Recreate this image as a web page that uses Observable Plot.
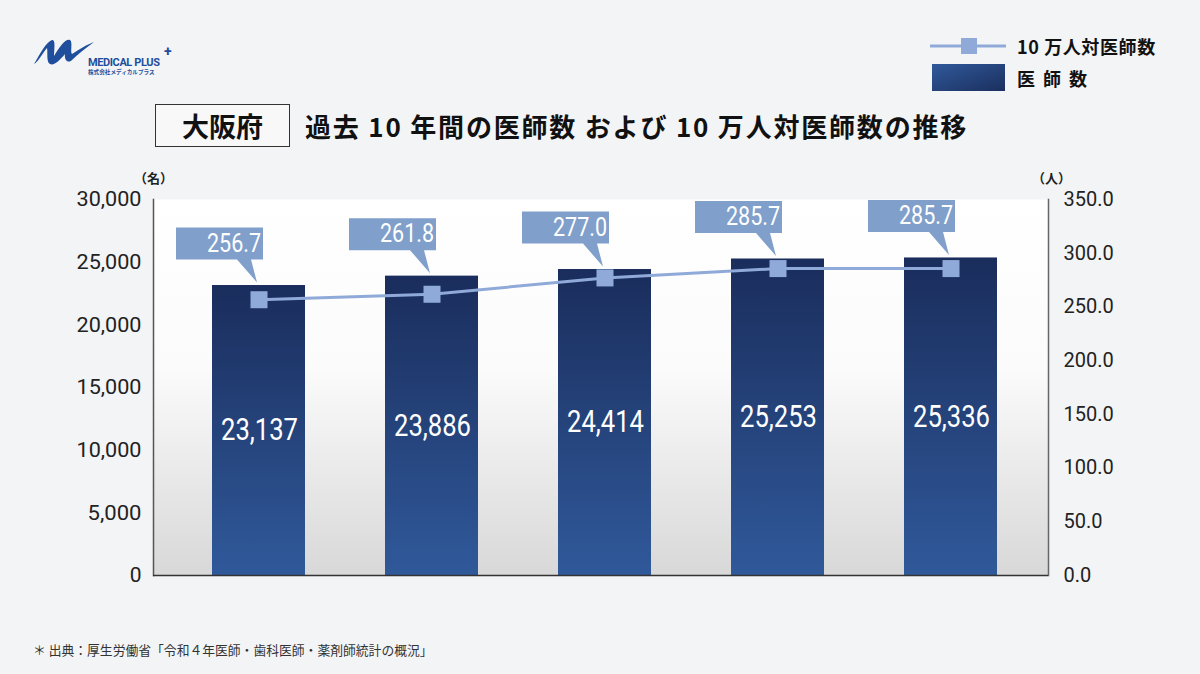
<!DOCTYPE html>
<html><head><meta charset="utf-8">
<script src="https://cdn.jsdelivr.net/npm/d3@7"></script>
<script src="https://cdn.jsdelivr.net/npm/@observablehq/plot@0.6"></script>
<style>
html,body{margin:0;padding:0;}
body{width:1200px;height:674px;background:#f3f4f6;position:relative;overflow:hidden;font-family:"Noto Sans CJK JP","Noto Sans",sans-serif;}
.abs{position:absolute;white-space:nowrap;}
#chart{position:absolute;left:0;top:160px;}
</style></head>
<body>
<!-- logo -->
<svg class="abs" style="left:30px;top:36px" width="145" height="42">
  <path d="M4,28 C10,18 16,6 22,4 C26,3 24,14 24,20 C30,10 36,2 40,4 C43,6 40,16 42,18 C48,14 58,8 64,6 C56,12 48,18 42,24 C38,28 34,24 35,18 C30,24 24,30 20,28 C16,26 18,16 17,12 C12,18 8,26 4,28 Z" fill="#1e4e9c"/>
  <text x="58" y="30" font-family="Roboto,sans-serif" font-weight="700" font-size="11" fill="#1e4e9c" letter-spacing="-0.4">MEDICAL PLUS</text>
  <text x="134" y="20" font-family="Roboto,sans-serif" font-weight="700" font-size="14" fill="#1e4e9c">+</text>
  <text x="58" y="38" font-family="'Noto Sans CJK JP',sans-serif" font-weight="700" font-size="5.6" fill="#1e4e9c">株式会社メディカルプラス</text>
</svg>
<!-- legend -->
<svg class="abs" style="left:925px;top:32px" width="100" height="65">
  <line x1="5" y1="14" x2="81" y2="14" stroke="#8faad9" stroke-width="3"/>
  <rect x="36" y="6" width="16" height="16" fill="#8faad9"/>
  <defs><linearGradient id="lg" x1="0" y1="0" x2="1" y2="1"><stop offset="0" stop-color="#30599a"/><stop offset="1" stop-color="#1b2f5e"/></linearGradient></defs>
  <rect x="7" y="32" width="73" height="27" fill="url(#lg)"/>
</svg>
<div class="abs" style="left:1017px;top:34px;font-size:18px;font-weight:700;color:#111;line-height:24px;letter-spacing:0.6px;">10 万人対医師数</div>
<div class="abs" style="left:1017px;top:66px;font-size:18px;font-weight:700;color:#111;line-height:24px;letter-spacing:8px;">医師数</div>
<!-- title -->
<div class="abs" style="left:155px;top:104px;width:135px;height:43px;border:1px solid #333;background:#f8f8f8;box-sizing:border-box;font-size:27px;font-weight:700;text-align:center;line-height:41px;color:#111;">大阪府</div>
<div class="abs" style="left:305px;top:104px;font-size:26px;font-weight:700;line-height:43px;color:#111;letter-spacing:1.8px;">過去 10 年間の医師数 および 10 万人対医師数の推移</div>
<!-- units -->
<div class="abs" style="left:134px;top:168px;font-size:13px;font-weight:700;color:#222;">（名）</div>
<div class="abs" style="left:1032px;top:168px;font-size:13px;font-weight:700;color:#222;">（人）</div>
<!-- footnote -->
<div class="abs" style="left:33px;top:640px;font-size:12.8px;color:#333;">＊ 出典：厚生労働省「令和４年医師・歯科医師・薬剤師統計の概況」</div>
<div id="chart"></div>
<script>
const years = ["2014", "2016", "2018", "2020", "2022"];
const doctors = [23137, 23886, 24414, 25253, 25336];
const per100k = [256.7, 261.8, 277.0, 285.7, 285.7];
const leftTicks = [0, 5000, 10000, 15000, 20000, 25000, 30000];
const rightTicks = [0, 50, 100, 150, 200, 250, 300, 350];
const leftMax = 30000, rightMax = 350;

const data = years.map((y, i) => ({year: y, doctors: doctors[i], rate: per100k[i], rateScaled: per100k[i] * leftMax / rightMax}));

const defs = () => {
  const d = d3.create("svg:defs");
  const g1 = d.append("linearGradient").attr("id", "barGrad").attr("x1", 0).attr("y1", 0).attr("x2", 0).attr("y2", 1);
  g1.append("stop").attr("offset", 0).attr("stop-color", "#1a2d5c");
  g1.append("stop").attr("offset", 1).attr("stop-color", "#30599a");
  const g2 = d.append("linearGradient").attr("id", "bgGrad").attr("x1", 0).attr("y1", 0).attr("x2", 0).attr("y2", 1);
  g2.append("stop").attr("offset", 0).attr("stop-color", "#ffffff");
  g2.append("stop").attr("offset", 0.45).attr("stop-color", "#fbfbfb");
  g2.append("stop").attr("offset", 1).attr("stop-color", "#d8d8d8");
  return d.node();
};

const callout = {
  draw(ctx) {
    ctx.moveTo(-83, -58);
    ctx.lineTo(4, -58);
    ctx.lineTo(4, -26);
    ctx.lineTo(-8, -26);
    ctx.lineTo(-2, -3);
    ctx.lineTo(-22, -26);
    ctx.lineTo(-83, -26);
    ctx.closePath();
  }
};

const chart = Plot.plot({
  width: 1200,
  height: 430,
  marginLeft: 153,
  marginRight: 152,
  marginTop: 39,
  marginBottom: 15,
  style: {background: "transparent", fontFamily: "Roboto, sans-serif"},
  x: {domain: years, paddingInner: 0.463, paddingOuter: 0.315, align: 0.537, axis: null},
  y: {domain: [0, leftMax], axis: null},
  marks: [
    defs,
    Plot.frame({fill: "url(#bgGrad)", stroke: "none"}),
    Plot.barY(data, {x: "year", y: "doctors", fill: "url(#barGrad)"}),
    Plot.frame({anchor: "left", stroke: "#555", strokeWidth: 1.5}),
    Plot.frame({anchor: "right", stroke: "#666", strokeWidth: 1.5}),
    Plot.ruleY([0], {stroke: "#333", strokeWidth: 1.5}),
    Plot.axisY(leftTicks, {anchor: "left", tickSize: 0, tickPadding: 12, fontSize: 21, fill: "#222", tickFormat: d => d3.format(",")(d), className: "laxis"}),
    Plot.axisY(rightTicks.map(v => v * leftMax / rightMax), {anchor: "right", tickSize: 0, tickPadding: 15, fontSize: 20, fill: "#222", tickFormat: d => (d * rightMax / leftMax).toFixed(1)}),
    Plot.text(data, {x: "year", y: d => d.doctors / 2, dx: -38, textAnchor: "start", text: d => d3.format(",")(d.doctors), fill: "white", fontSize: 31, className: "barlbl"}),
    Plot.lineY(data, {x: "year", y: "rateScaled", stroke: "#8faad9", strokeWidth: 3}),
    Plot.dot(data, {x: "year", y: "rateScaled", symbol: "square", r: 9.6, fill: "#8faad9", stroke: "none"}),
    Plot.dot(data, {x: "year", y: "doctors", symbol: callout, r: 5, fill: "#809fcb", stroke: "none"}),
    Plot.text(data, {x: "year", y: "doctors", dx: -52, dy: -42, textAnchor: "start", text: d => d.rate.toFixed(1), fill: "white", fontSize: 26, className: "calllbl"})
  ]
});
// narrow the digit labels to match the condensed face of the original
chart.querySelectorAll(".barlbl text").forEach(t => { t.setAttribute("textLength", 77); t.setAttribute("lengthAdjust", "spacingAndGlyphs"); });
chart.querySelectorAll(".calllbl text").forEach(t => { t.setAttribute("textLength", 54); t.setAttribute("lengthAdjust", "spacingAndGlyphs"); });
chart.querySelectorAll(".laxis text").forEach(t => {
  const n = t.textContent.length;
  if (n > 1) { t.setAttribute("textLength", n === 5 ? 54 : 65); t.setAttribute("lengthAdjust", "spacingAndGlyphs"); }
});
document.getElementById("chart").appendChild(chart);
</script>
</body></html>
